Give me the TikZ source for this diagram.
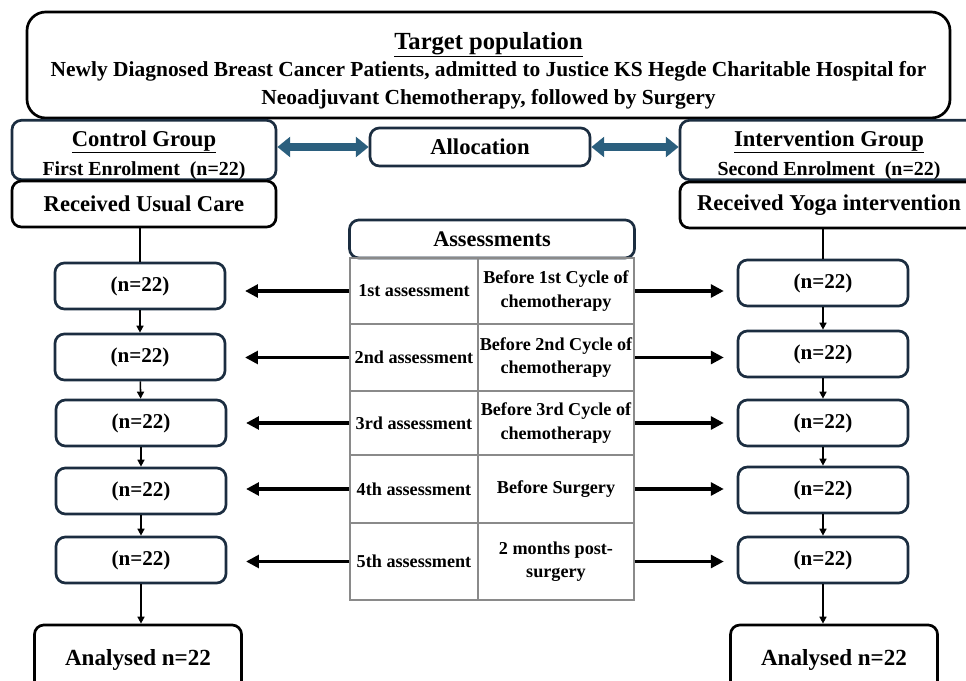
\documentclass[tikz,border=0pt]{standalone}
\usepackage{fontspec}
\setmainfont{Liberation Serif}
\usetikzlibrary{arrows.meta,positioning}

\definecolor{navyline}{HTML}{1B2D40}
\definecolor{gridgray}{HTML}{8A8A8A}
\definecolor{arrowblue}{HTML}{2B5F7E}

\tikzset{
  box/.style = {draw=navyline, line width=2.3pt, rounded corners=8pt, fill=white,
    align=center, inner sep=0pt, font=\bfseries\fontsize{19.3}{22}\selectfont},
  nbox/.style = {box, minimum width=5.1cm, minimum height=1.38cm, font=\bfseries\fontsize{18}{21}\selectfont},% boites (n=22)
  endbox/.style = {box, draw=black, minimum width=6.21cm, minimum height=2.1cm, font=\bfseries\fontsize{19.7}{22}\selectfont},
  cell/.style = {draw=gridgray, line width=0.9pt, align=center, inner sep=0pt,
    font=\bfseries\fontsize{15.5}{20}\selectfont},
  fatarrow/.style = {draw=arrowblue, line width=6pt,
    {Triangle[length=11pt,width=17pt]}-{Triangle[length=11pt,width=17pt]}},
  harrow/.style = {draw=black, line width=2.6pt, -{Triangle[length=11pt,width=11pt]}},
  varrow/.style = {draw=black, line width=1.3pt, -{Triangle[length=6pt,width=6pt]}},
}

\begin{document}
\begin{tikzpicture}[x=0.03cm,y=-0.03cm]
  \useasboundingbox (0,0) rectangle (966,681);
  \clip (0,0) rectangle (966,681);

  % population cible
  \node[box, draw=black, rounded corners=16pt, minimum width=27.69cm, minimum height=3.18cm,
        font=\bfseries\fontsize{18.3}{23.5}\selectfont] (target) at (488.5,65)
    {\rule{0pt}{24pt}{\fontsize{21}{23}\selectfont\underline{Target population}}\\
     Newly Diagnosed Breast Cancer Patients, admitted to Justice KS Hegde Charitable Hospital for\\
     Neoadjuvant Chemotherapy, followed by Surgery};

  % groupes
  \node[box, minimum width=7.92cm, minimum height=1.68cm] (ctrl) at (144,150)
    {\rule{0pt}{22pt}\underline{Control Group}\\[3pt]{\fontsize{17}{19}\selectfont First Enrolment\ \ (n=22)}};
  \node[box, draw=black, minimum width=7.92cm, minimum height=1.38cm] (usual) at (144,204) {Received Usual Care};
  \node[box, minimum width=6.6cm, minimum height=1.14cm] (alloc) at (480,147) {Allocation};
  \node[box, minimum width=8.94cm, minimum height=1.68cm] (interv) at (829,150)
    {\rule{0pt}{22pt}\underline{Intervention Group}\\[3pt]{\fontsize{17}{19}\selectfont Second Enrolment\ \ (n=22)}};
  \node[box, draw=black, minimum width=8.94cm, minimum height=1.38cm] (yoga) at (829,205) {Received Yoga intervention};

  \path[fatarrow] (alloc.west -| ctrl.east) -- (alloc.west);
  \path[fatarrow] (alloc.east) -- (alloc.east -| interv.west);

  % tableau des evaluations
  \node[box, minimum width=8.55cm, minimum height=1.14cm, font=\bfseries\fontsize{19}{22}\selectfont] (assess) at (492,239) {Assessments};
  \node[cell, minimum width=3.84cm, minimum height=1.98cm] (a1) at (414,291) {1st assessment};
  \node[cell, minimum width=4.68cm, minimum height=1.98cm] (b1) at (556,291) {Before 1st Cycle of\\chemotherapy};
  \node[cell, minimum width=3.84cm, minimum height=2.01cm] (a2) at (414,357.5) {2nd assessment};
  \node[cell, minimum width=4.68cm, minimum height=2.01cm] (b2) at (556,357.5) {Before 2nd Cycle of\\chemotherapy};
  \node[cell, minimum width=3.84cm, minimum height=1.92cm] (a3) at (414,423) {3rd assessment};
  \node[cell, minimum width=4.68cm, minimum height=1.92cm] (b3) at (556,423) {Before 3rd Cycle of\\chemotherapy};
  \node[cell, minimum width=3.84cm, minimum height=2.04cm] (a4) at (414,489) {4th assessment};
  \node[cell, minimum width=4.68cm, minimum height=2.04cm] (b4) at (556,489) {Before Surgery};
  \node[cell, minimum width=3.84cm, minimum height=2.31cm] (a5) at (414,561.5) {5th assessment};
  \node[cell, minimum width=4.68cm, minimum height=2.31cm] (b5) at (556,561.5) {2 months post-\\surgery};

  % bras controle
  \node[nbox] (L1) at (140,286) {(n=22)};
  \node[nbox] (L2) at (140,357) {(n=22)};
  \node[nbox] (L3) at (141,423) {(n=22)};
  \node[nbox] (L4) at (141,491) {(n=22)};
  \node[nbox] (L5) at (141,560) {(n=22)};
  \node[endbox] (Lend) at (138,660) {Analysed n=22};

  % bras intervention
  \node[nbox] (R1) at (823,283) {(n=22)};
  \node[nbox] (R2) at (823,354) {(n=22)};
  \node[nbox] (R3) at (823,423) {(n=22)};
  \node[nbox] (R4) at (823,490) {(n=22)};
  \node[nbox] (R5) at (823,560) {(n=22)};
  \node[endbox] (Rend) at (834,660) {Analysed n=22};

  \draw[line width=1.3pt] (L1.north |- usual.south) -- (L1.north);
  \draw[line width=1.3pt] (R1.north |- yoga.south) -- (R1.north);

  \path[varrow] (L1) -- (L2);
  \path[varrow] (L2) -- (L3);
  \path[varrow] (L3) -- (L4);
  \path[varrow] (L4) -- (L5);
  \path[varrow] (L5.south) -- (L5.south |- Lend.north);
  \path[varrow] (R1) -- (R2);
  \path[varrow] (R2) -- (R3);
  \path[varrow] (R3) -- (R4);
  \path[varrow] (R4) -- (R5);
  \path[varrow] (R5.south) -- (R5.south |- Rend.north);

  \path[harrow, shorten >=16pt] (a1.west) -- (a1.west -| L1.east);
  \path[harrow, shorten >=16pt] (a2.west) -- (a2.west -| L2.east);
  \path[harrow, shorten >=16pt] (a3.west) -- (a3.west -| L3.east);
  \path[harrow, shorten >=16pt] (a4.west) -- (a4.west -| L4.east);
  \path[harrow, shorten >=16pt] (a5.west) -- (a5.west -| L5.east);
  \path[harrow, shorten >=11pt] (b1.east) -- (b1.east -| R1.west);
  \path[harrow, shorten >=11pt] (b2.east) -- (b2.east -| R2.west);
  \path[harrow, shorten >=11pt] (b3.east) -- (b3.east -| R3.west);
  \path[harrow, shorten >=11pt] (b4.east) -- (b4.east -| R4.west);
  \path[harrow, shorten >=11pt] (b5.east) -- (b5.east -| R5.west);
\end{tikzpicture}
\end{document}
